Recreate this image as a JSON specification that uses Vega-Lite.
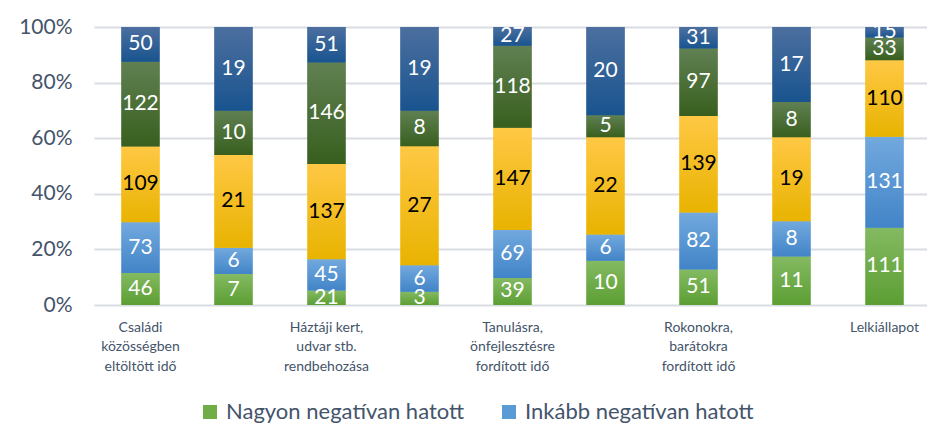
{
  "$schema": "https://vega.github.io/schema/vega-lite/v6.json",
  "width": 837,
  "height": 278,
  "autosize": {"type": "none"},
  "padding": {"left": 94, "top": 27, "right": 0, "bottom": 120},
  "background": "white",
  "config": {
    "view": {"stroke": null},
    "font": "Lato",
    "axis": {"labelFont": "Lato", "labelColor": "#44546A"},
    "legend": {"labelFont": "Lato", "labelColor": "#44546A"}
  },
  "data": {
    "values": [
      {"cat": "Családi közösségben eltöltött idő", "series": "Nagyon negatívan hatott", "o": 1, "v": 46},
      {"cat": "Családi közösségben eltöltött idő", "series": "Inkább negatívan hatott", "o": 2, "v": 73},
      {"cat": "Családi közösségben eltöltött idő", "series": "Nem hatott", "o": 3, "v": 109},
      {"cat": "Családi közösségben eltöltött idő", "series": "Inkább pozitívan hatott", "o": 4, "v": 122},
      {"cat": "Családi közösségben eltöltött idő", "series": "Nagyon pozitívan hatott", "o": 5, "v": 50},
      {"cat": " ", "series": "Nagyon negatívan hatott", "o": 1, "v": 7},
      {"cat": " ", "series": "Inkább negatívan hatott", "o": 2, "v": 6},
      {"cat": " ", "series": "Nem hatott", "o": 3, "v": 21},
      {"cat": " ", "series": "Inkább pozitívan hatott", "o": 4, "v": 10},
      {"cat": " ", "series": "Nagyon pozitívan hatott", "o": 5, "v": 19},
      {"cat": "Háztáji kert, udvar stb. rendbehozása", "series": "Nagyon negatívan hatott", "o": 1, "v": 21},
      {"cat": "Háztáji kert, udvar stb. rendbehozása", "series": "Inkább negatívan hatott", "o": 2, "v": 45},
      {"cat": "Háztáji kert, udvar stb. rendbehozása", "series": "Nem hatott", "o": 3, "v": 137},
      {"cat": "Háztáji kert, udvar stb. rendbehozása", "series": "Inkább pozitívan hatott", "o": 4, "v": 146},
      {"cat": "Háztáji kert, udvar stb. rendbehozása", "series": "Nagyon pozitívan hatott", "o": 5, "v": 51},
      {"cat": "  ", "series": "Nagyon negatívan hatott", "o": 1, "v": 3},
      {"cat": "  ", "series": "Inkább negatívan hatott", "o": 2, "v": 6},
      {"cat": "  ", "series": "Nem hatott", "o": 3, "v": 27},
      {"cat": "  ", "series": "Inkább pozitívan hatott", "o": 4, "v": 8},
      {"cat": "  ", "series": "Nagyon pozitívan hatott", "o": 5, "v": 19},
      {"cat": "Tanulásra, önfejlesztésre fordított idő", "series": "Nagyon negatívan hatott", "o": 1, "v": 39},
      {"cat": "Tanulásra, önfejlesztésre fordított idő", "series": "Inkább negatívan hatott", "o": 2, "v": 69},
      {"cat": "Tanulásra, önfejlesztésre fordított idő", "series": "Nem hatott", "o": 3, "v": 147},
      {"cat": "Tanulásra, önfejlesztésre fordított idő", "series": "Inkább pozitívan hatott", "o": 4, "v": 118},
      {"cat": "Tanulásra, önfejlesztésre fordított idő", "series": "Nagyon pozitívan hatott", "o": 5, "v": 27},
      {"cat": "   ", "series": "Nagyon negatívan hatott", "o": 1, "v": 10},
      {"cat": "   ", "series": "Inkább negatívan hatott", "o": 2, "v": 6},
      {"cat": "   ", "series": "Nem hatott", "o": 3, "v": 22},
      {"cat": "   ", "series": "Inkább pozitívan hatott", "o": 4, "v": 5},
      {"cat": "   ", "series": "Nagyon pozitívan hatott", "o": 5, "v": 20},
      {"cat": "Rokonokra, barátokra fordított idő", "series": "Nagyon negatívan hatott", "o": 1, "v": 51},
      {"cat": "Rokonokra, barátokra fordított idő", "series": "Inkább negatívan hatott", "o": 2, "v": 82},
      {"cat": "Rokonokra, barátokra fordított idő", "series": "Nem hatott", "o": 3, "v": 139},
      {"cat": "Rokonokra, barátokra fordított idő", "series": "Inkább pozitívan hatott", "o": 4, "v": 97},
      {"cat": "Rokonokra, barátokra fordított idő", "series": "Nagyon pozitívan hatott", "o": 5, "v": 31},
      {"cat": "    ", "series": "Nagyon negatívan hatott", "o": 1, "v": 11},
      {"cat": "    ", "series": "Inkább negatívan hatott", "o": 2, "v": 8},
      {"cat": "    ", "series": "Nem hatott", "o": 3, "v": 19},
      {"cat": "    ", "series": "Inkább pozitívan hatott", "o": 4, "v": 8},
      {"cat": "    ", "series": "Nagyon pozitívan hatott", "o": 5, "v": 17},
      {"cat": "Lelkiállapot", "series": "Nagyon negatívan hatott", "o": 1, "v": 111},
      {"cat": "Lelkiállapot", "series": "Inkább negatívan hatott", "o": 2, "v": 131},
      {"cat": "Lelkiállapot", "series": "Nem hatott", "o": 3, "v": 110},
      {"cat": "Lelkiállapot", "series": "Inkább pozitívan hatott", "o": 4, "v": 33},
      {"cat": "Lelkiállapot", "series": "Nagyon pozitívan hatott", "o": 5, "v": 15}
    ]
  },
  "transform": [
    {"stack": "v", "groupby": ["cat"], "sort": [{"field": "o", "order": "ascending"}], "offset": "normalize", "as": ["y0", "y1"]}
  ],
  "encoding": {
    "x": {
      "field": "cat",
      "type": "nominal",
      "sort": null,
      "scale": {"paddingInner": 0.59, "paddingOuter": 0.295},
      "axis": {
        "title": null,
        "ticks": false,
        "domain": false,
        "labelAngle": 0,
        "labelFontSize": 14,
        "labelLineHeight": 19.5,
        "labelPadding": 15,
        "labelLimit": 200,
        "labelExpr": "datum.value == 'Családi közösségben eltöltött idő' ? ['Családi', 'közösségben', 'eltöltött idő'] : datum.value == 'Háztáji kert, udvar stb. rendbehozása' ? ['Háztáji kert,', 'udvar stb.', 'rendbehozása'] : datum.value == 'Tanulásra, önfejlesztésre fordított idő' ? ['Tanulásra,', 'önfejlesztésre', 'fordított idő'] : datum.value == 'Rokonokra, barátokra fordított idő' ? ['Rokonokra,', 'barátokra', 'fordított idő'] : datum.value"
      }
    }
  },
  "layer": [
    {
      "mark": {"type": "bar"},
      "encoding": {
        "y": {
          "field": "y0",
          "type": "quantitative",
          "scale": {"domain": [0, 1]},
          "axis": {
            "title": null,
            "format": ".0%",
            "values": [0, 0.2, 0.4, 0.6, 0.8, 1],
            "ticks": false,
            "domain": false,
            "labelFontSize": 21,
            "labelPadding": 22,
            "gridColor": "#D9DCE1",
            "gridWidth": 2
          }
        },
        "y2": {"field": "y1"},
        "color": {
          "field": "series",
          "type": "nominal",
          "scale": {
            "domain": ["Nagyon negatívan hatott", "Inkább negatívan hatott", "Nem hatott", "Inkább pozitívan hatott", "Nagyon pozitívan hatott"],
            "range": ["#70AD47", "#5B9BD5", "#FFC000", "#4A6E36", "#255E91"]
          },
          "legend": {
            "values": ["Nagyon negatívan hatott", "Inkább negatívan hatott"],
            "title": null,
            "orient": "none",
            "direction": "horizontal",
            "legendX": 105,
            "legendY": 374,
            "padding": 0,
            "symbolType": "square",
            "symbolSize": 196,
            "symbolStrokeWidth": 0,
            "symbolOpacity": 1,
            "labelFontSize": 22,
            "labelOffset": 5,
            "columnPadding": 33,
            "labelLimit": 400
          }
        }
      }
    },
    {
      "transform": [{"filter": "datum.series == 'Nagyon negatívan hatott'"}],
      "mark": {"type": "bar", "color": {"gradient": "linear", "x1": 0, "y1": 0, "x2": 0, "y2": 1, "stops": [{"offset": 0, "color": "#84BA62"}, {"offset": 1, "color": "#5C9E33"}]}},
      "encoding": {"y": {"field": "y0", "type": "quantitative"}, "y2": {"field": "y1"}}
    },
    {
      "transform": [{"filter": "datum.series == 'Inkább negatívan hatott'"}],
      "mark": {"type": "bar", "color": {"gradient": "linear", "x1": 0, "y1": 0, "x2": 0, "y2": 1, "stops": [{"offset": 0, "color": "#72A9DE"}, {"offset": 1, "color": "#4284C8"}]}},
      "encoding": {"y": {"field": "y0", "type": "quantitative"}, "y2": {"field": "y1"}}
    },
    {
      "transform": [{"filter": "datum.series == 'Nem hatott'"}],
      "mark": {"type": "bar", "color": {"gradient": "linear", "x1": 0, "y1": 0, "x2": 0, "y2": 1, "stops": [{"offset": 0, "color": "#FFC845"}, {"offset": 1, "color": "#E8B300"}]}},
      "encoding": {"y": {"field": "y0", "type": "quantitative"}, "y2": {"field": "y1"}}
    },
    {
      "transform": [{"filter": "datum.series == 'Inkább pozitívan hatott'"}],
      "mark": {"type": "bar", "color": {"gradient": "linear", "x1": 0, "y1": 0, "x2": 0, "y2": 1, "stops": [{"offset": 0, "color": "#608052"}, {"offset": 1, "color": "#385F1E"}]}},
      "encoding": {"y": {"field": "y0", "type": "quantitative"}, "y2": {"field": "y1"}}
    },
    {
      "transform": [{"filter": "datum.series == 'Nagyon pozitívan hatott'"}],
      "mark": {"type": "bar", "color": {"gradient": "linear", "x1": 0, "y1": 0, "x2": 0, "y2": 1, "stops": [{"offset": 0, "color": "#4C6F9F"}, {"offset": 1, "color": "#19548F"}]}},
      "encoding": {"y": {"field": "y0", "type": "quantitative"}, "y2": {"field": "y1"}}
    },
    {
      "mark": {"type": "text", "fontSize": 21, "baseline": "middle", "font": "Lato"},
      "encoding": {
        "y": {"field": "v", "type": "quantitative", "stack": "normalize", "bandPosition": 0.5},
        "detail": {"field": "series"},
        "order": {"field": "o", "type": "quantitative"},
        "text": {"field": "v", "type": "quantitative"},
        "color": {
          "condition": {"test": "datum.series == 'Nem hatott'", "value": "#000000"},
          "value": "#FFFFFF"
        }
      }
    }
  ]
}
